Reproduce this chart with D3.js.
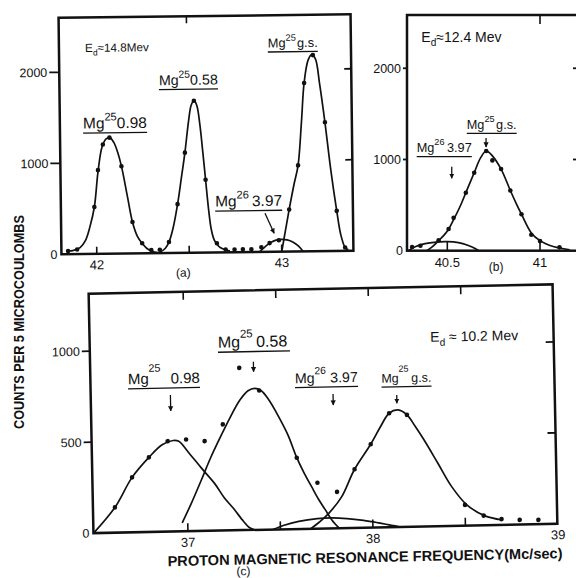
<!DOCTYPE html>
<html><head><meta charset="utf-8">
<script src="https://cdn.jsdelivr.net/npm/d3@7"></script>
<style>
body{margin:0;background:#fff}
svg{display:block}
text{font-family:"Liberation Sans",Arial,sans-serif;fill:#111}
</style>
</head><body><script>
// ================= DATA =================
// Panel (a)  Ed ≈ 14.8 MeV
const aFreq   = [41.845,41.894,41.99,42.012,42.04,42.076,42.139,42.195,42.246,42.295,
                 42.341,42.391,42.44,42.483,42.535,42.593,42.65,42.697,42.745,42.79,42.836,42.89,42.935,42.985,
                 43.043,43.094,43.132,43.181,43.242,43.30,43.343];
const aCounts = [35,50,515,920,1200,1275,960,345,110,35,
                 36,120,535,1100,1670,800,100,30,30,30,30,50,95,125,
                 462,945,1850,2155,1415,440,36];
const aFit098 = [[41.845,35],[41.87,38],[41.91,70],[41.94,150],[41.965,300],[41.99,515],[42.012,900],[42.035,1170],
                 [42.058,1262],[42.078,1275],[42.10,1220],[42.12,1110],[42.139,960],[42.17,620],[42.195,345],
                 [42.22,190],[42.246,110],[42.27,55],[42.30,20],[42.33,5]];
const aFit058 = [[42.341,10],[42.37,50],[42.391,120],[42.415,280],[42.44,535],[42.462,820],[42.483,1100],[42.505,1450],
                 [42.52,1620],[42.535,1670],[42.55,1620],[42.565,1420],[42.58,1100],[42.593,800],[42.607,480],
                 [42.62,260],[42.635,140],[42.65,90],[42.67,50],[42.70,25],[42.72,15]];
const aFitGs  = [[43.0,0],[43.02,215],[43.043,462],[43.07,730],[43.094,945],[43.115,1420],[43.132,1850],[43.155,2100],
                 [43.175,2160],[43.195,2110],[43.215,1850],[43.242,1415],[43.27,900],[43.30,440],[43.32,180],[43.343,36],[43.36,10]];
const aFit397 = [[42.88,0],[42.91,55],[42.94,100],[42.97,127],[43.0,135],[43.03,128],[43.06,105],[43.09,60],[43.115,0]];
const aXTicks = [42, 42.5, 43];
const aXTickLabels = [42, 43];
const aYTicks = [1000, 2000];
const aYTickLabels = [0, 1000, 2000];

// Panel (b)  Ed ≈ 12.4 MeV
const bFreq   = [40.31,40.355,40.453,40.507,40.534,40.60,40.645,40.71,40.743,40.79,40.84,40.90,40.953,41.0,41.105];
const bCounts = [40,55,115,238,360,636,855,1093,990,895,660,400,175,105,37];
const bFitGs  = [[40.39,0],[40.42,45],[40.453,110],[40.48,165],[40.507,235],[40.534,340],[40.57,490],[40.60,636],
                 [40.645,855],[40.68,1020],[40.71,1093],[40.743,1040],[40.79,895],[40.84,660],[40.87,525],[40.90,400],
                 [40.953,195],[41.0,110],[41.05,60],[41.105,30],[41.16,10]];
const bFit397 = [[40.29,0],[40.33,45],[40.38,78],[40.44,95],[40.5,99],[40.56,88],[40.61,60],[40.65,25],[40.67,0]];
const bXTicks = [40.5, 41];
const bXTickLabels = ["40.5", "41"];
const bYTicks = [1000, 2000];
const bYTickLabels = [0, 1000, 2000];

// Panel (c)  Ed ≈ 10.2 MeV
const cFreq   = [36.608,36.704,36.797,36.90,37.0,37.10,37.20,37.295,37.40,37.596,37.705,37.81,37.907,37.997,
                 38.10,38.196,38.50,38.60,38.696,38.794,38.895];
const cCounts = [139,302,410,497,504,493,583,892,765,392,252,200,322,458,626,615,114,53,32,26,24];
const cFit098 = [[36.49,0],[36.608,139],[36.704,302],[36.797,410],[36.87,478],[36.93,500],[36.96,495],[37.014,430],
                 [37.08,345],[37.149,260],[37.20,180],[37.248,121],[37.30,50],[37.33,15],[37.36,0]];
const cFit058 = [[36.97,47],[37.02,150],[37.078,280],[37.13,400],[37.186,515],[37.24,620],[37.295,715],[37.34,765],
                 [37.376,777],[37.41,765],[37.45,715],[37.493,638],[37.55,520],[37.596,392],[37.635,305],[37.673,231],
                 [37.71,160],[37.745,102],[37.78,45],[37.818,0]];
const cFitGs  = [[37.664,0],[37.71,35],[37.763,83],[37.835,173],[37.907,322],[37.997,458],[38.05,550],[38.10,626],
                 [38.149,643],[38.196,615],[38.24,550],[38.286,475],[38.358,346],[38.43,216],[38.51,114],[38.604,53],[38.70,27]];
const cFit397 = [[37.46,0],[37.52,22],[37.60,42],[37.70,55],[37.78,57],[37.86,52],[37.95,40],[38.03,25],[38.10,10],[38.15,0]];
const cXTicks = [37, 37.5, 38, 38.5];
const cXTickLabels = [37, 38, 39];
const cYTicks = [500, 1000];
const cYTickLabels = [0, 500, 1000];

// level annotations (underline span in MHz, height in counts)
const aNotes = [
  {mass:"25", level:"0.98", f0:41.934, f1:42.28,  v:1329},
  {mass:"25", level:"0.58", f0:42.347, f1:42.666, v:1796},
  {mass:"25", level:"g.s.", f0:42.938, f1:43.208, v:2195},
  {mass:"26", level:"3.97", f0:42.643, f1:43.005, v:454}
];
const aArrows = [{f0:42.912, v0:423, f1:42.96, v1:202}];
const bNotes = [
  {mass:"26", level:"3.97", f0:40.335, f1:40.632, v:1031},
  {mass:"25", level:"g.s.", f0:40.605, f1:40.874, v:1287}
];
const bArrows = [{f0:40.524, v0:921, f1:40.524, v1:794},{f0:40.709, v0:1236, f1:40.709, v1:1137}];
const cNotes = [
  {mass:"25", level:"0.98", f0:36.692, f1:37.081, v:789},
  {mass:"25", level:"0.58", f0:37.182, f1:37.571, v:980},
  {mass:"26", level:"3.97", f0:37.594, f1:37.935, v:777},
  {mass:"25", level:"g.s.", f0:38.062, f1:38.332, v:770}
];
const cArrows = [{f0:36.92, v0:750, f1:36.92, v1:663},{f0:37.372, v0:924, f1:37.372, v1:869},
                 {f0:37.799, v0:738, f1:37.799, v1:677},{f0:38.143, v0:725, f1:38.143, v1:680}];

// ================= DRAWING =================
const W = 576, H = 578, INK = "#111";
const svg = d3.select("body").append("svg").attr("width", W).attr("height", H);
svg.append("rect").attr("width", W).attr("height", H).attr("fill", "#fff");
svg.append("defs").append("marker").attr("id", "ah")
  .attr("viewBox", "0 0 10 10").attr("refX", 9).attr("refY", 5)
  .attr("markerWidth", 4).attr("markerHeight", 5).attr("orient", "auto")
  .append("path").attr("d", "M0,0 L10,5 L0,10 Z").attr("fill", INK);

// text with a raised/lowered middle part, auto-sized to a target width
function fitText(g, x0, yb, width, parts, shiftRatio, gapRatio, maxSize) {
  const t = g.append("text").attr("x", x0).attr("y", yb);
  const draw = fs => {
    t.selectAll("*").remove();
    t.attr("font-size", fs);
    t.append("tspan").text(parts[0]);
    t.append("tspan").attr("dy", -fs * shiftRatio).attr("font-size", fs * 0.72).text(parts[1]);
    t.append("tspan").attr("dy", fs * shiftRatio).attr("dx", fs * gapRatio).text(parts[2]);
  };
  draw(14);
  const L = t.node().getComputedTextLength() + 14 * gapRatio;
  draw(Math.min(maxSize, 14 * width / L));
  return t;
}

function drawPanel(P) {
  const cx = (P.xr[0] + P.xr[1]) / 2, cy = (P.yr[0] + P.yr[1]) / 2;
  const g = svg.append("g").attr("transform", `rotate(${P.rot},${cx},${cy})`);
  const x = d3.scaleLinear().domain(P.xd).range(P.xr);
  const y = d3.scaleLinear().domain([0, P.ymax]).range([P.yr[1], P.yr[0]]);
  const line = d3.line().x(d => x(d[0])).y(d => y(d[1])).curve(d3.curveCatmullRom.alpha(0.5));

  g.selectAll(null).data(P.fits).join("path")
    .attr("d", line).attr("fill", "none").attr("stroke", INK).attr("stroke-width", 1.7);
  g.selectAll(null).data(d3.zip(P.freq, P.counts)).join("circle")
    .attr("cx", d => x(d[0])).attr("cy", d => y(d[1])).attr("r", 2.3).attr("fill", INK);

  // frame
  g.append("rect").attr("x", P.xr[0]).attr("y", P.yr[0])
    .attr("width", P.xr[1] - P.xr[0]).attr("height", P.yr[1] - P.yr[0])
    .attr("fill", "none").attr("stroke", INK).attr("stroke-width", 2.5);

  const tick = (x1, y1, x2, y2, w) => g.append("line").attr("x1", x1).attr("y1", y1)
    .attr("x2", x2).attr("y2", y2).attr("stroke", INK).attr("stroke-width", w || 1.6);
  P.xTicks.forEach(t => tick(x(t), y(0), x(t), y(0) - P.tickIn));
  P.topTicks.forEach(t => tick(x(t), P.yr[0], x(t), P.yr[0] + P.tickIn));
  P.yTicks.forEach(v => {
    tick(P.xr[0] - P.tickOut, y(v), P.xr[0], y(v), 1.8);
    tick(P.xr[1], y(v), P.xr[1] - P.tickIn, y(v), 1.8);
  });

  // tick labels
  P.yLabels.forEach(v => g.append("text").attr("x", v === 0 ? P.xr[0] - 4 : P.xr[0] - P.tickOut - 2)
    .attr("y", y(v) + 4.5).attr("text-anchor", "end").attr("font-size", 12.5).text(v));
  P.xLabels.forEach(t => g.append("text").attr("x", x(+t)).attr("y", y(0) + P.xLabOff)
    .attr("text-anchor", "middle").attr("font-size", 13).text(t));
  g.append("text").attr("x", x(P.letterF)).attr("y", y(0) + P.letterOff)
    .attr("text-anchor", "middle").attr("font-size", 12).text(P.letter);

  // level annotations
  P.notes.forEach((n, i) => {
    const x0 = x(n.f0), x1 = x(n.f1), yy = y(n.v);
    tick(x0, yy, x1, yy, 1.3);
    fitText(g, x0, yy - 4.5, x1 - x0, ["Mg", n.mass, n.level], P.supShift[i], P.gap[i], 16);
  });
  P.arrows.forEach(a => g.append("line").attr("x1", x(a.f0)).attr("y1", y(a.v0))
    .attr("x2", x(a.f1)).attr("y2", y(a.v1)).attr("stroke", INK).attr("stroke-width", 1.3)
    .attr("marker-end", "url(#ah)"));

  // beam energy
  fitText(g, x(P.ed.f), y(P.ed.v), P.ed.len, ["E", "d", P.ed.text], -0.3, 0, 14);

  if (P.xTitle) {
    g.append("text").attr("x", x(P.xTitle.f)).attr("y", y(0) + P.xTitle.off)
      .attr("text-anchor", "middle").attr("font-size", 14.5).attr("font-weight", "bold")
      .attr("textLength", P.xTitle.len).attr("lengthAdjust", "spacingAndGlyphs")
      .text("PROTON MAGNETIC RESONANCE FREQUENCY(Mc/sec)");
  }
}

drawPanel({
  xr: [60, 352], yr: [16, 252.5], xd: [41.809, 43.3876], ymax: 2599, rot: -0.7,
  freq: aFreq, counts: aCounts, fits: [aFit098, aFit058, aFitGs, aFit397],
  xTicks: aXTicks, topTicks: [42.5], yTicks: aYTicks, yLabels: aYTickLabels, xLabels: aXTickLabels,
  tickIn: 7, tickOut: 10, xLabOff: 15.5, letter: "(a)", letterF: 42.467, letterOff: 24,
  notes: aNotes, arrows: aArrows, supShift: [0.5, 0.5, 0.5, 0.5], gap: [0, 0, 0.08, 0.2],
  ed: {f: 41.95, v: 2220, len: 64, text: "≈14.8Mev"}
});
drawPanel({
  xr: [407, 582], yr: [15, 250.7], xd: [40.2826, 41.2265], ymax: 2584, rot: 0,
  freq: bFreq, counts: bCounts, fits: [bFitGs, bFit397],
  xTicks: bXTicks, topTicks: [41], yTicks: bYTicks, yLabels: bYTickLabels, xLabels: bXTickLabels,
  tickIn: 9, tickOut: 4, xLabOff: 16, letter: "(b)", letterF: 40.763, letterOff: 20,
  notes: bNotes, arrows: bArrows, supShift: [0.55, 0.55], gap: [0.2, 0.12],
  ed: {f: 40.36, v: 2289, len: 88, text: "≈12.4 Mev"}
});
drawPanel({
  xr: [91, 555], yr: [289, 528.5], xd: [36.4892, 38.997], ymax: 1316, rot: -1.15,
  freq: cFreq, counts: cCounts, fits: [cFit098, cFit058, cFitGs, cFit397],
  xTicks: cXTicks, topTicks: cXTicks, yTicks: cYTicks, yLabels: cYTickLabels, xLabels: cXTickLabels,
  tickIn: 8, tickOut: 8, xLabOff: 15.5, letter: "(c)", letterF: 37.295, letterOff: 45,
  notes: cNotes, arrows: cArrows, supShift: [0.8, 0.6, 0.6, 0.85], gap: [0.65, 0.2, 0.3, 0.2],
  ed: {f: 38.33, v: 1014, len: 96, text: " ≈ 10.2 Mev"},
  xTitle: {f: 37.954, off: 34.5, len: 395}
});

svg.append("text").attr("transform", "translate(24,322) rotate(-90)")
  .attr("text-anchor", "middle").attr("font-size", 14).attr("font-weight", "bold")
  .attr("textLength", 214).attr("lengthAdjust", "spacingAndGlyphs")
  .text("COUNTS PER 5 MICROCOULOMBS");
</script></body></html>
